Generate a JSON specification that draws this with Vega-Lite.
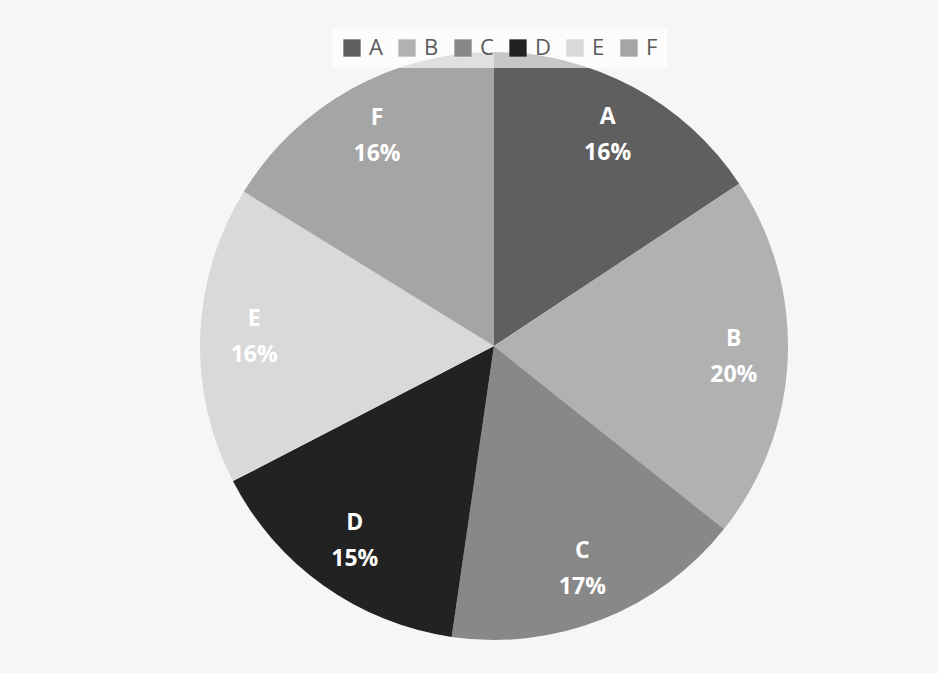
{
  "$schema": "https://vega.github.io/schema/vega-lite/v6.json",
  "width": 938,
  "height": 673,
  "autosize": {"type": "fit", "contains": "padding"},
  "padding": {"left": 50, "top": 19, "right": 0, "bottom": 0},
  "background": "#f6f6f6",
  "config": {"view": {"stroke": null}, "font": "Open Sans"},
  "data": {
    "values": [
      {"cat": "A", "value": 15.7, "pct": "16%"},
      {"cat": "B", "value": 20.0, "pct": "20%"},
      {"cat": "C", "value": 16.6, "pct": "17%"},
      {"cat": "D", "value": 15.1, "pct": "15%"},
      {"cat": "E", "value": 16.4, "pct": "16%"},
      {"cat": "F", "value": 16.2, "pct": "16%"}
    ]
  },
  "encoding": {
    "theta": {"field": "value", "type": "quantitative", "stack": true},
    "color": {
      "field": "cat",
      "type": "nominal",
      "scale": {
        "domain": ["A", "B", "C", "D", "E", "F"],
        "range": ["#5f5f5f", "#b1b1b1", "#888888", "#222222", "#d9d9d9", "#a5a5a5"]
      },
      "legend": {
        "title": null,
        "orient": "none",
        "direction": "horizontal",
        "legendX": 282,
        "legendY": 9,
        "symbolType": "square",
        "symbolSize": 300,
        "symbolStrokeWidth": 0,
        "symbolOpacity": 1,
        "labelFontSize": 22,
        "labelColor": "#595959",
        "labelOffset": 6,
        "columnPadding": 13,
        "fillColor": "rgba(255,255,255,0.65)",
        "padding": 9
      }
    },
    "order": {"field": "cat", "type": "nominal"}
  },
  "layer": [
    {"mark": {"type": "arc", "outerRadius": 294}},
    {
      "mark": {"type": "text", "radius": 240, "fontSize": 23, "fontWeight": "bold", "dy": -18},
      "encoding": {"text": {"field": "cat"}, "color": {"value": "white"}}
    },
    {
      "mark": {"type": "text", "radius": 240, "fontSize": 23, "fontWeight": "bold", "dy": 18},
      "encoding": {"text": {"field": "pct"}, "color": {"value": "white"}}
    }
  ]
}
